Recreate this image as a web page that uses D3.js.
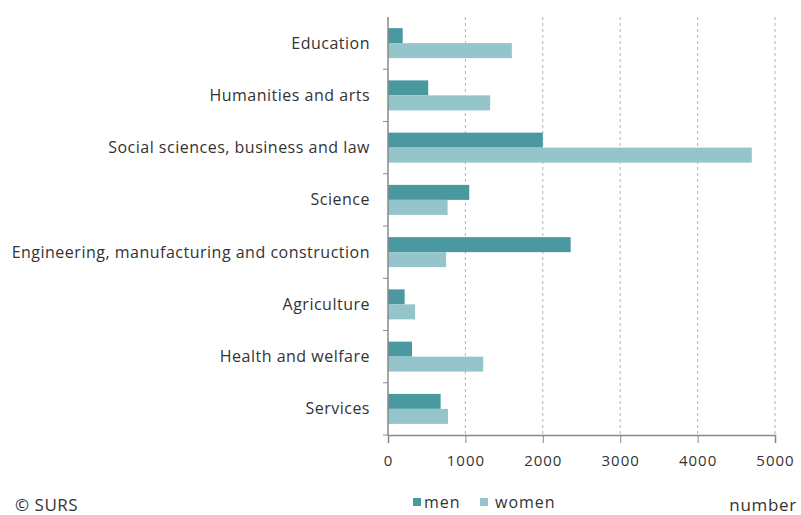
<!DOCTYPE html>
<html>
<head>
<meta charset="utf-8">
<script src="https://cdn.jsdelivr.net/npm/d3@7"></script>
<style>
  body { margin: 0; background: #fff; }
  svg text { font-family: "Open Sans", sans-serif; fill: #333; }
</style>
</head>
<body>
<div id="chart"></div>
<script>
// data
var categories = ["Education", "Humanities and arts", "Social sciences, business and law", "Science",
  "Engineering, manufacturing and construction", "Agriculture", "Health and welfare", "Services"];
var men = [190, 520, 2000, 1050, 2360, 215, 310, 680];
var women = [1600, 1320, 4700, 770, 750, 350, 1230, 775];
var seriesNames = ["men", "women"];
var xTicks = [0, 1000, 2000, 3000, 4000, 5000];

var colors = {men: "#4b99a0", women: "#93c5cb"};

var W = 801, H = 515;
var margin = {top: 17, right: 26, bottom: 80, left: 388};
var width = W - margin.left - margin.right,
    height = H - margin.top - margin.bottom;

var svg = d3.select("#chart").append("svg")
  .attr("width", W).attr("height", H);

var g = svg.append("g")
  .attr("transform", "translate(" + margin.left + "," + margin.top + ")");

var x = d3.scaleLinear().domain([0, 5000]).range([0, width]);
var y = d3.scaleBand().domain(categories).range([0, height])
  .paddingInner(0.426).paddingOuter(0.213);
var ySub = d3.scaleBand().domain(seriesNames).range([0, y.bandwidth()]);

// dashed grid
g.selectAll(".grid")
  .data(xTicks.slice(1))
  .enter().append("line")
  .attr("class", "grid")
  .attr("x1", function(d) { return x(d); })
  .attr("x2", function(d) { return x(d); })
  .attr("y1", 0).attr("y2", height)
  .attr("stroke", "#b5b5b5")
  .attr("stroke-dasharray", "3,3");

var rows = categories.map(function(c, i) {
  return {cat: c, men: men[i], women: women[i]};
});

var grp = g.selectAll(".cat")
  .data(rows)
  .enter().append("g")
  .attr("transform", function(d) { return "translate(0," + y(d.cat) + ")"; });

grp.selectAll("rect")
  .data(function(d) { return seriesNames.map(function(s) { return {s: s, v: d[s]}; }); })
  .enter().append("rect")
  .attr("x", 0)
  .attr("y", function(d) { return ySub(d.s); })
  .attr("width", function(d) { return x(d.v); })
  .attr("height", ySub.bandwidth())
  .attr("fill", function(d) { return colors[d.s]; });

// x axis
var xAxis = g.append("g")
  .attr("transform", "translate(0," + height + ")")
  .call(d3.axisBottom(x).tickValues(xTicks).tickSize(8).tickPadding(12).tickFormat(d3.format("d")));
xAxis.select(".domain").attr("stroke", "#888").attr("stroke-width", 1.5);
xAxis.selectAll(".tick line").attr("stroke", "#888");
xAxis.selectAll("text").style("font-size", "15px").style("letter-spacing", "1px").attr("fill", "#333");

// y axis: ticks between categories
var yAxis = g.append("g");
yAxis.append("line")
  .attr("x1", 0).attr("x2", 0).attr("y1", 0).attr("y2", height)
  .attr("stroke", "#888").attr("stroke-width", 1.5);
var sepY = function(d) { return y(d) + y.bandwidth() / 2 + y.step() / 2; };
yAxis.selectAll(".sep")
  .data(categories)
  .enter().append("line")
  .attr("x1", -5).attr("x2", 0)
  .attr("y1", sepY)
  .attr("y2", sepY)
  .attr("stroke", "#888");
yAxis.selectAll(".lab")
  .data(categories)
  .enter().append("text")
  .attr("x", -18)
  .attr("y", function(d) { return y(d) + y.bandwidth() / 2; })
  .attr("dy", "0.35em")
  .attr("text-anchor", "end")
  .style("font-size", "16px")
  .style("letter-spacing", "0.5px")
  .text(function(d) { return d; });

// legend
var legend = svg.append("g").attr("transform", "translate(413,502)");
var lx = [0, 67];
seriesNames.forEach(function(s, i) {
  legend.append("rect")
    .attr("x", lx[i]).attr("y", -4).attr("width", 8).attr("height", 8)
    .attr("fill", colors[s]);
  legend.append("text")
    .attr("x", lx[i] + (i ? 15 : 11)).attr("y", 0).attr("dy", "0.35em")
    .style("font-size", "16px")
    .style("letter-spacing", "1px")
    .text(s);
});

svg.append("text")
  .attr("x", 797).attr("y", 505).attr("dy", "0.35em")
  .attr("text-anchor", "end")
  .style("font-size", "17px")
  .style("letter-spacing", "0.7px")
  .text("number");

svg.append("text")
  .attr("x", 15).attr("y", 505).attr("dy", "0.35em")
  .style("font-size", "17px")
  .style("letter-spacing", "0.5px")
  .text("© SURS");
</script>
</body>
</html>
